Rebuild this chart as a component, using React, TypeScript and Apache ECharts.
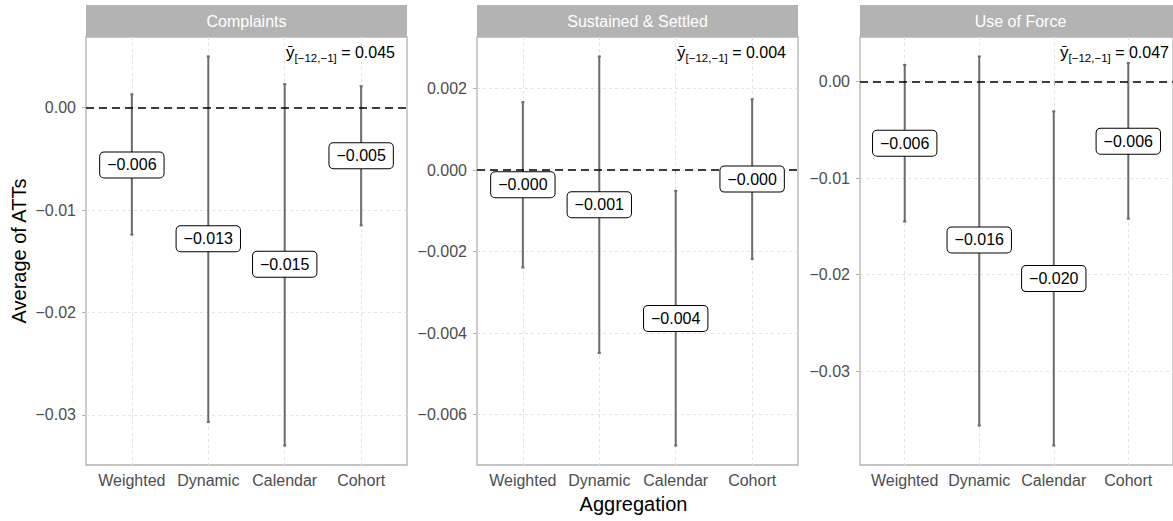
import React, { useEffect, useRef } from 'react';
import * as echarts from 'echarts';

// ---------- data ----------
const panels = ['Complaints', 'Sustained & Settled', 'Use of Force'];
const categories = ['Weighted', 'Dynamic', 'Calendar', 'Cohort'];

const complaintsEst = [-0.0056, -0.0128, -0.0153, -0.0047];
const complaintsLo = [-0.0124, -0.0307, -0.0330, -0.0115];
const complaintsHi = [0.0013, 0.0050, 0.0023, 0.0021];

const sustainedEst = [-0.00036, -0.00085, -0.00364, -0.00022];
const sustainedLo = [-0.00239, -0.00449, -0.00676, -0.00218];
const sustainedHi = [0.00167, 0.00279, -0.00051, 0.00174];

const forceEst = [-0.0064, -0.0164, -0.0204, -0.0062];
const forceLo = [-0.0145, -0.0356, -0.03767, -0.0142];
const forceHi = [0.0017, 0.00258, -0.0031, 0.0019];

const preMeans = ['0.045', '0.004', '0.047'];

const complaintsTicks = [-0.03, -0.02, -0.01, 0];
const sustainedTicks = [-0.006, -0.004, -0.002, 0, 0.002];
const forceTicks = [-0.03, -0.02, -0.01, 0];
const tickDecimals = [2, 3, 2];

const yTitle = 'Average of ATTs';
const xTitle = 'Aggregation';

// ---------- layout ----------
const FONT = '"Liberation Sans", Arial, Helvetica, sans-serif';
const GRID_LEFT = [86, 477, 860];
const GRID_W = 321;
const GRID_TOP = 37;
const GRID_H = 428;
const STRIP_TOP = 5;
const STRIP_H = 32;

const toMinus = (s: string) => s.replace(/-/g, '\u2212');

export default function App() {
  const ref = useRef<HTMLDivElement>(null);

  useEffect(() => {
    const chart = echarts.init(ref.current as HTMLDivElement, null, { renderer: 'svg' });

    const panelData = [
      { est: complaintsEst, lo: complaintsLo, hi: complaintsHi, ticks: complaintsTicks },
      { est: sustainedEst, lo: sustainedLo, hi: sustainedHi, ticks: sustainedTicks },
      { est: forceEst, lo: forceLo, hi: forceHi, ticks: forceTicks },
    ];

    const grids: any[] = [];
    const xAxes: any[] = [];
    const yAxes: any[] = [];
    const series: any[] = [];
    const graphics: any[] = [];
    const xPos = categories.map((_, j) => j + 1);

    panelData.forEach((p, i) => {
      const dmax = Math.max(...p.hi);
      const dmin = Math.min(...p.lo);
      const pad = (dmax - dmin) * 0.05;
      const dec = tickDecimals[i];

      grids.push({
        left: GRID_LEFT[i],
        top: GRID_TOP,
        width: GRID_W,
        height: GRID_H,
        show: true,
        backgroundColor: '#ffffff',
        borderColor: '#B3B3B3',
        borderWidth: 1.3,
      });

      xAxes.push({
        type: 'value',
        gridIndex: i,
        min: 0.4,
        max: 4.6,
        axisLine: { show: false },
        axisTick: {
          show: true,
          customValues: xPos,
          length: 4,
          lineStyle: { color: '#B3B3B3', width: 1 },
        },
        axisLabel: {
          customValues: xPos,
          formatter: (v: number) => categories[Math.round(v) - 1] ?? '',
          fontSize: 16,
          color: '#4D4D4D',
          fontFamily: FONT,
          margin: 7,
        },
        splitLine: {
          show: true,
          lineStyle: { color: '#E3E3E3', type: [3, 3], width: 1 },
        },
      });

      yAxes.push({
        type: 'value',
        gridIndex: i,
        min: dmin - pad,
        max: dmax + pad,
        axisLine: { show: false },
        axisTick: {
          show: true,
          customValues: p.ticks,
          length: 4,
          lineStyle: { color: '#B3B3B3', width: 1 },
        },
        axisLabel: {
          customValues: p.ticks,
          formatter: (v: number) => toMinus(v.toFixed(dec)),
          fontSize: 16,
          color: '#4D4D4D',
          fontFamily: FONT,
          margin: 10,
        },
        splitLine: {
          show: true,
          lineStyle: { color: '#E3E3E3', type: [3, 3], width: 1 },
        },
      });

      // error bars + zero line
      series.push({
        type: 'custom',
        xAxisIndex: i,
        yAxisIndex: i,
        z: 3,
        data: xPos.map((x, j) => [x, p.lo[j], p.hi[j]]),
        encode: { x: 0, y: [1, 2] },
        renderItem: (_params: any, api: any) => {
          const x = api.value(0);
          const top = api.coord([x, api.value(2)]);
          const bot = api.coord([x, api.value(1)]);
          const st = { stroke: '#6B6B6B', lineWidth: 2 };
          return {
            type: 'group',
            children: [
              { type: 'line', shape: { x1: top[0], y1: top[1], x2: bot[0], y2: bot[1] }, style: st },
              { type: 'line', shape: { x1: top[0] - 1.5, y1: top[1], x2: top[0] + 1.5, y2: top[1] }, style: st },
              { type: 'line', shape: { x1: bot[0] - 1.5, y1: bot[1], x2: bot[0] + 1.5, y2: bot[1] }, style: st },
            ],
          };
        },
        markLine: {
          silent: true,
          symbol: 'none',
          label: { show: false },
          lineStyle: { color: '#000000', type: [8, 5], width: 1.7 },
          data: [{ yAxis: 0 }],
        },
      });

      // estimate labels
      series.push({
        type: 'custom',
        xAxisIndex: i,
        yAxisIndex: i,
        z: 5,
        data: xPos.map((x, j) => [x, p.est[j]]),
        encode: { x: 0, y: 1 },
        renderItem: (_params: any, api: any) => {
          const v = api.value(1);
          const pt = api.coord([api.value(0), v]);
          return {
            type: 'text',
            x: pt[0],
            y: pt[1],
            style: {
              text: toMinus(v.toFixed(3)),
              fontSize: 16,
              fontFamily: FONT,
              fill: '#000000',
              align: 'center',
              verticalAlign: 'middle',
              backgroundColor: '#ffffff',
              borderColor: '#000000',
              borderWidth: 1,
              borderRadius: 4,
              padding: [4, 7, 3, 7],
              lineHeight: 18,
            },
          };
        },
      });

      // strip
      graphics.push({
        type: 'rect',
        shape: { x: GRID_LEFT[i], y: STRIP_TOP, width: GRID_W, height: STRIP_H },
        style: { fill: '#B3B3B3' },
        silent: true,
      });
      graphics.push({
        type: 'text',
        x: GRID_LEFT[i] + GRID_W / 2,
        y: STRIP_TOP + STRIP_H / 2 + 0.5,
        style: {
          text: panels[i],
          fill: '#ffffff',
          fontSize: 16,
          fontFamily: FONT,
          align: 'center',
          verticalAlign: 'middle',
        },
        silent: true,
      });
      // pre-period mean annotation
      graphics.push({
        type: 'text',
        x: GRID_LEFT[i] + GRID_W - 12,
        y: 52,
        z: 10,
        style: {
          text: '{a|\u0233}{b|[\u221212,\u22121]}{c| = ' + preMeans[i] + '}',
          align: 'right',
          verticalAlign: 'middle',
          rich: {
            a: { fontSize: 17, fontFamily: FONT, fill: '#000', lineHeight: 24, verticalAlign: 'middle' },
            b: { fontSize: 11.5, fontFamily: FONT, fill: '#000', lineHeight: 24, verticalAlign: 'bottom' },
            c: { fontSize: 16, fontFamily: FONT, fill: '#000', lineHeight: 24, verticalAlign: 'middle' },
          },
        },
        silent: true,
      });
    });

    graphics.push({
      type: 'text',
      x: 19,
      y: GRID_TOP + GRID_H / 2,
      rotation: Math.PI / 2,
      style: {
        text: yTitle,
        fontSize: 20,
        fontFamily: FONT,
        fill: '#000',
        align: 'center',
        verticalAlign: 'middle',
      },
    });
    graphics.push({
      type: 'text',
      x: (GRID_LEFT[0] + GRID_LEFT[2] + GRID_W) / 2,
      y: 504,
      style: {
        text: xTitle,
        fontSize: 20,
        fontFamily: FONT,
        fill: '#000',
        align: 'center',
        verticalAlign: 'middle',
      },
    });

    chart.setOption({
      animation: false,
      backgroundColor: '#ffffff',
      grid: grids,
      xAxis: xAxes,
      yAxis: yAxes,
      series,
      graphic: graphics,
    });

    return () => chart.dispose();
  }, []);

  return (
    <div
      ref={ref}
      style={{ position: 'absolute', left: 0, top: 0, width: 1173, height: 521 }}
    />
  );
}
